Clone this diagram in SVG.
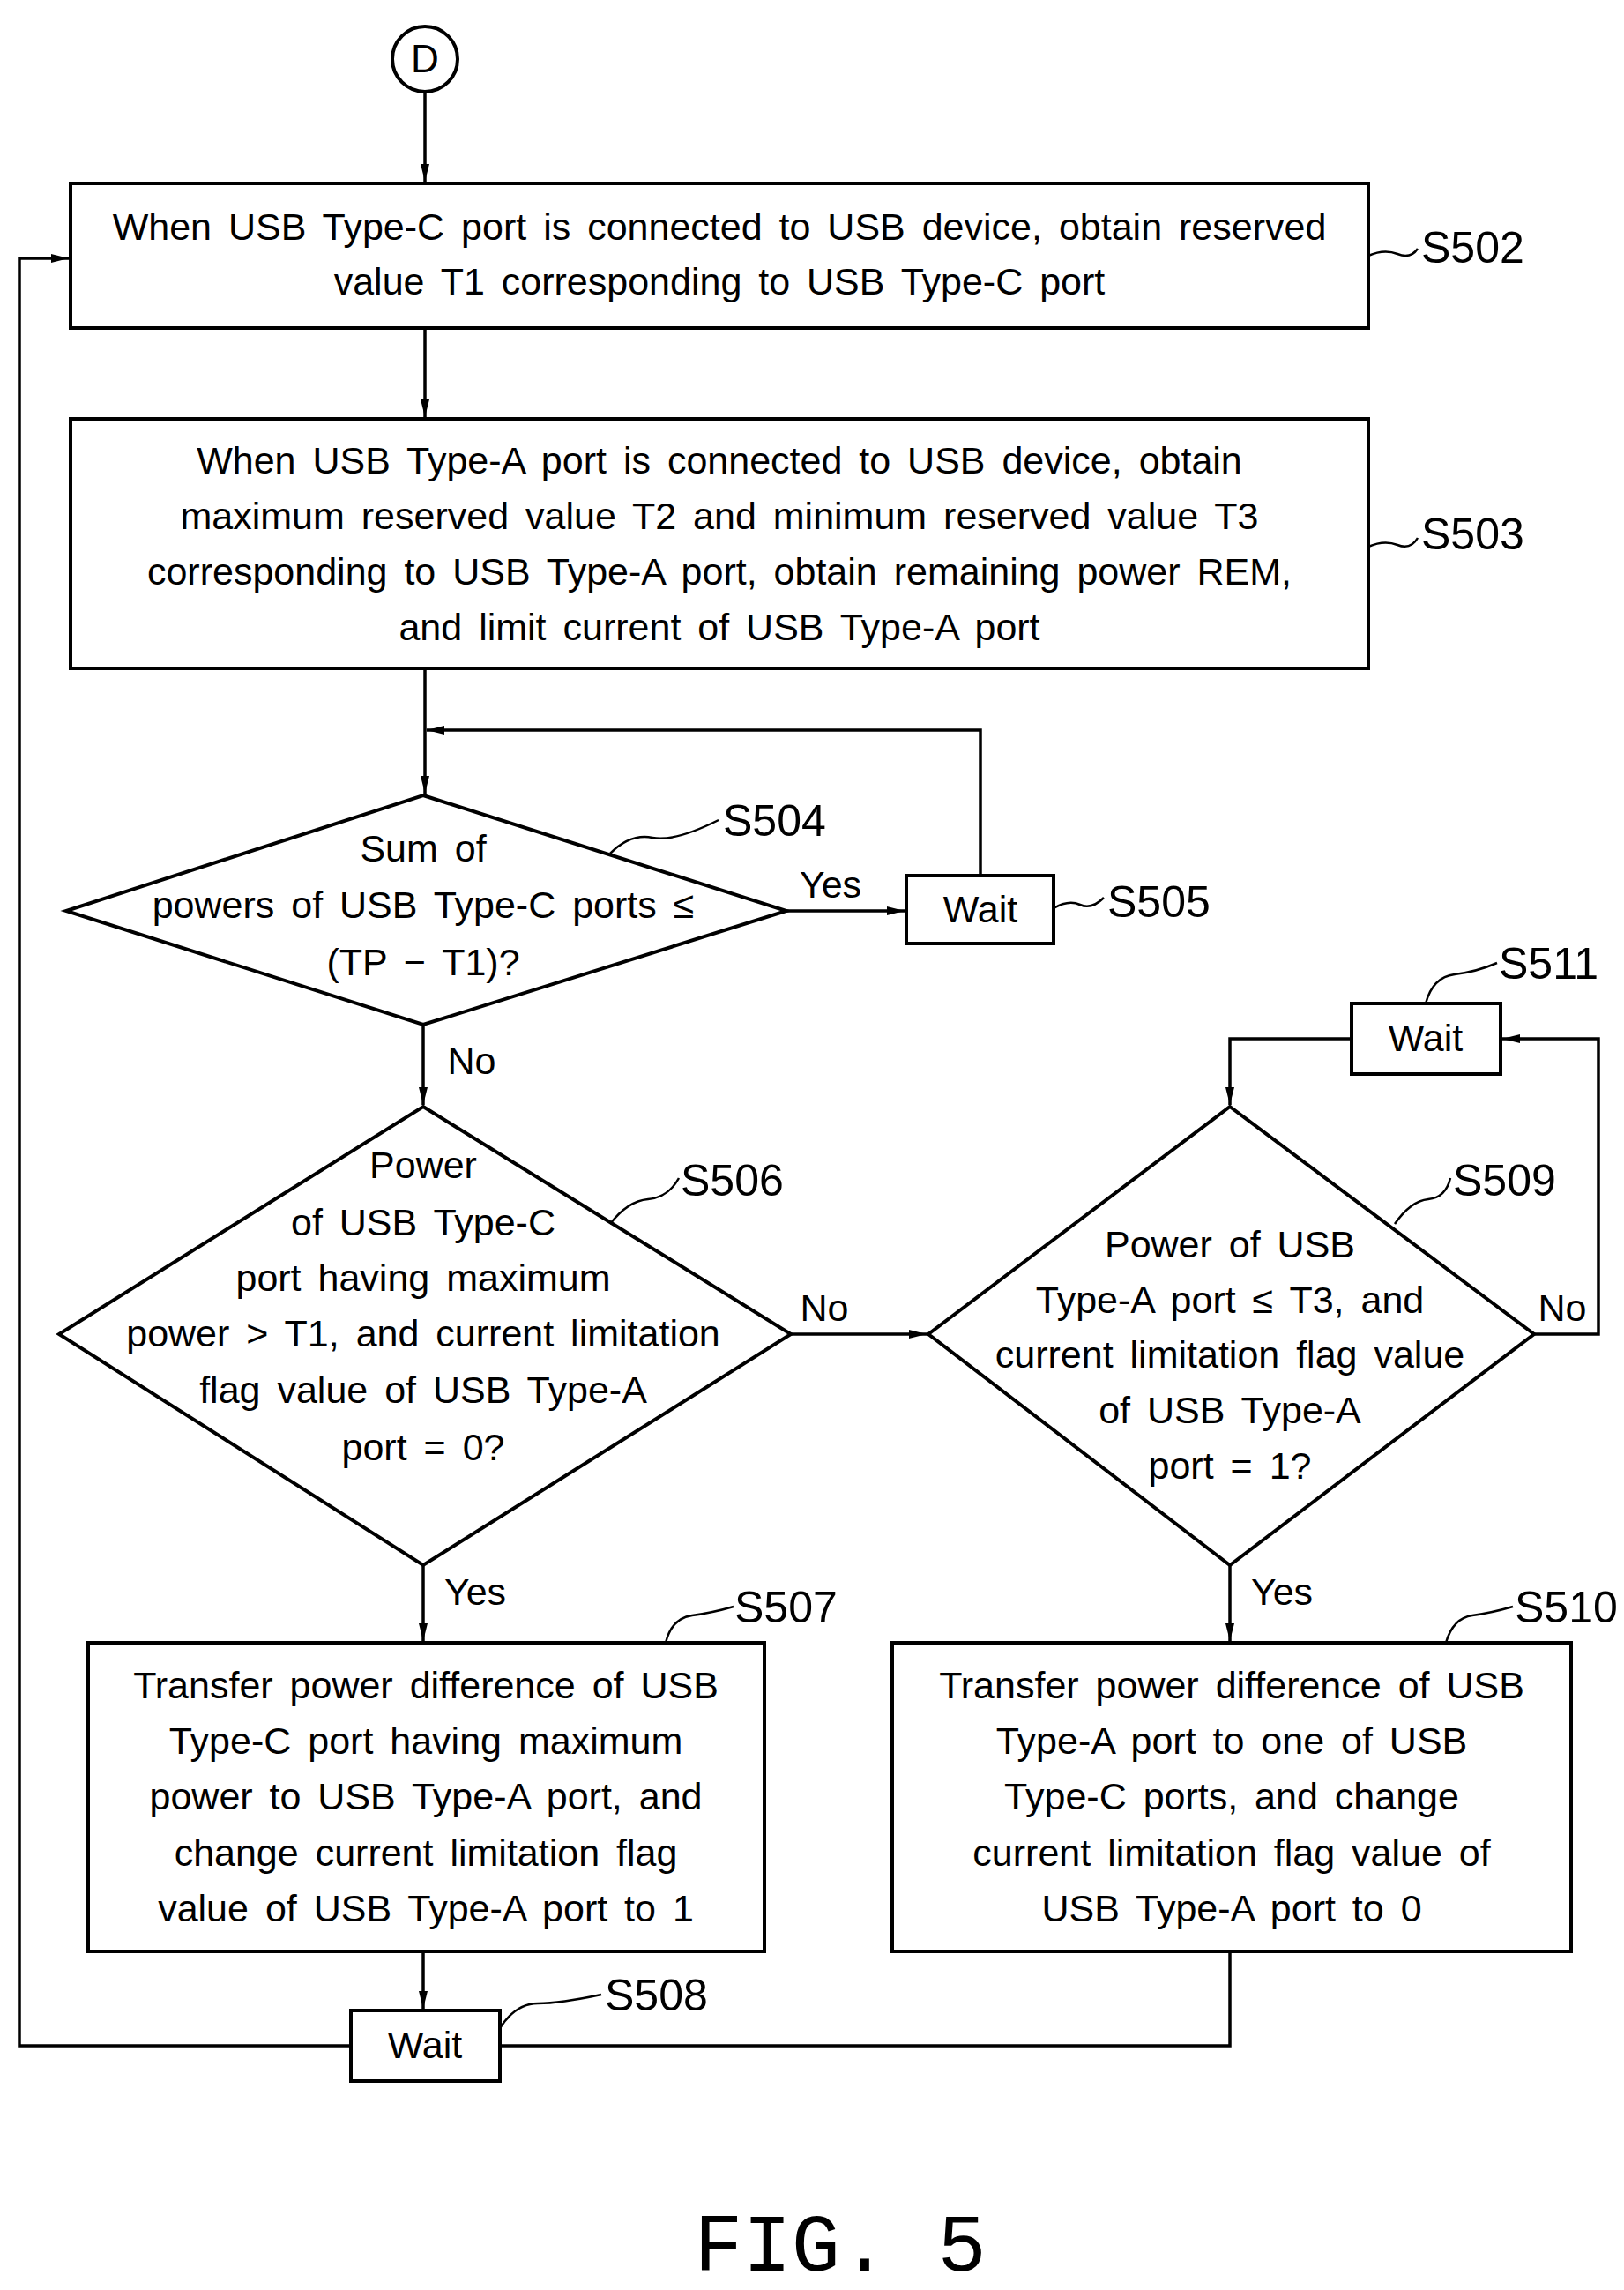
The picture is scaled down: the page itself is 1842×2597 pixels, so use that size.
<svg xmlns="http://www.w3.org/2000/svg" width="1842" height="2597" viewBox="0 0 1842 2597">
<style>
.b{fill:#fff;stroke:#000;stroke-width:4}
.t{font-family:"Liberation Sans",Arial,sans-serif;font-size:43px;word-spacing:7px;text-anchor:middle;fill:#000}
.l{font-family:"Liberation Sans",Arial,sans-serif;font-size:50px;fill:#000}
.c{fill:none;stroke:#000;stroke-width:3.5}
.q{fill:none;stroke:#000;stroke-width:2.5}
</style>
<defs><marker id="a" viewBox="0 0 20 10" refX="20" refY="5" markerWidth="20" markerHeight="10" markerUnits="userSpaceOnUse" orient="auto"><path d="M0,0 L20,5 L0,10 Z" fill="#000"/></marker></defs>
<rect width="1842" height="2597" fill="#fff"/>
<g id="connectors">
<path class="c" d="M482,104 V206" marker-end="url(#a)"/>
<path class="c" d="M482,372 V473" marker-end="url(#a)"/>
<path class="c" d="M482,758 V900" marker-end="url(#a)"/>
<path class="c" d="M1112,993 V828 H484" marker-end="url(#a)"/>
<path class="c" d="M892,1033 H1026" marker-end="url(#a)"/>
<path class="c" d="M480,1162 V1253" marker-end="url(#a)"/>
<path class="c" d="M897,1513 H1051" marker-end="url(#a)"/>
<path class="c" d="M1740,1513 H1813 V1178 H1704" marker-end="url(#a)"/>
<path class="c" d="M1533,1178 H1395 V1253" marker-end="url(#a)"/>
<path class="c" d="M480,1775 V1861" marker-end="url(#a)"/>
<path class="c" d="M1395,1775 V1861" marker-end="url(#a)"/>
<path class="c" d="M480,2213 V2278" marker-end="url(#a)"/>
<path class="c" d="M1395,2213 V2320 H567"/>
<path class="c" d="M398,2320 H22 V293 H78" marker-end="url(#a)"/>
<text class="t" x="942" y="1018">Yes</text>
<text class="t" x="535" y="1218">No</text>
<text class="t" x="935" y="1498">No</text>
<text class="t" x="1772" y="1498">No</text>
<text class="t" x="539" y="1820">Yes</text>
<text class="t" x="1454" y="1820">Yes</text>
</g>
<g id="D"><circle class="b" cx="482" cy="67" r="37"/><text class="t" x="482" y="82" style="font-size:44px">D</text></g>
<g id="S502"><rect class="b" x="80" y="208" width="1472" height="164"/>
<text class="t" x="816" y="272">When USB Type-C port is connected to USB device, obtain reserved</text>
<text class="t" x="816" y="334">value T1 corresponding to USB Type-C port</text>
<path class="q" d="M1552,290 Q1570,282 1585,288 T1608,282"/><text class="l" x="1612" y="298">S502</text></g>
<g id="S503"><rect class="b" x="80" y="475" width="1472" height="283"/>
<text class="t" x="816" y="537">When USB Type-A port is connected to USB device, obtain</text>
<text class="t" x="816" y="600">maximum reserved value T2 and minimum reserved value T3</text>
<text class="t" x="816" y="663">corresponding to USB Type-A port, obtain remaining power REM,</text>
<text class="t" x="816" y="726">and limit current of USB Type-A port</text>
<path class="q" d="M1552,620 Q1570,612 1585,618 T1608,610"/><text class="l" x="1612" y="623">S503</text></g>
<g id="S504"><polygon class="b" points="480,902 892,1033 480,1162 75,1033"/>
<text class="t" x="480" y="977">Sum of</text>
<text class="t" x="480" y="1041">powers of USB Type-C ports ≤</text>
<text class="t" x="480" y="1106">(TP − T1)?</text>
<path class="q" d="M692,968 Q715,945 740,950 T815,930"/><text class="l" x="820" y="948">S504</text></g>
<g id="S505"><rect class="b" x="1028" y="993" width="167" height="77"/><text class="t" x="1112" y="1046">Wait</text>
<path class="q" d="M1195,1030 Q1212,1020 1225,1026 T1252,1018"/><text class="l" x="1256" y="1040">S505</text></g>
<g id="S506"><polygon class="b" points="480,1255 897,1513 480,1775 67,1513"/>
<text class="t" x="480" y="1336">Power</text>
<text class="t" x="480" y="1401">of USB Type-C</text>
<text class="t" x="480" y="1464">port having maximum</text>
<text class="t" x="480" y="1527">power &gt; T1, and current limitation</text>
<text class="t" x="480" y="1591">flag value of USB Type-A</text>
<text class="t" x="480" y="1656">port = 0?</text>
<path class="q" d="M692,1388 Q712,1362 735,1360 T770,1336"/><text class="l" x="772" y="1356">S506</text></g>
<g id="S509"><polygon class="b" points="1395,1255 1740,1513 1395,1775 1053,1513"/>
<text class="t" x="1395" y="1426">Power of USB</text>
<text class="t" x="1395" y="1489">Type-A port ≤ T3, and</text>
<text class="t" x="1395" y="1551">current limitation flag value</text>
<text class="t" x="1395" y="1614">of USB Type-A</text>
<text class="t" x="1395" y="1677">port = 1?</text>
<path class="q" d="M1582,1388 Q1600,1362 1620,1360 T1645,1336"/><text class="l" x="1648" y="1356">S509</text></g>
<g id="S511"><rect class="b" x="1533" y="1138" width="169" height="80"/><text class="t" x="1617" y="1192">Wait</text>
<path class="q" d="M1617,1138 Q1625,1108 1650,1105 T1698,1092"/><text class="l" x="1700" y="1110">S511</text></g>
<g id="S507"><rect class="b" x="100" y="1863" width="767" height="350"/>
<text class="t" x="483" y="1926">Transfer power difference of USB</text>
<text class="t" x="483" y="1989">Type-C port having maximum</text>
<text class="t" x="483" y="2052">power to USB Type-A port, and</text>
<text class="t" x="483" y="2116">change current limitation flag</text>
<text class="t" x="483" y="2179">value of USB Type-A port to 1</text>
<path class="q" d="M755,1863 Q762,1835 785,1832 T832,1822"/><text class="l" x="833" y="1840">S507</text></g>
<g id="S510"><rect class="b" x="1012" y="1863" width="770" height="350"/>
<text class="t" x="1397" y="1926">Transfer power difference of USB</text>
<text class="t" x="1397" y="1989">Type-A port to one of USB</text>
<text class="t" x="1397" y="2052">Type-C ports, and change</text>
<text class="t" x="1397" y="2116">current limitation flag value of</text>
<text class="t" x="1397" y="2179">USB Type-A port to 0</text>
<path class="q" d="M1640,1863 Q1648,1835 1670,1832 T1716,1822"/><text class="l" x="1718" y="1840">S510</text></g>
<g id="S508"><rect class="b" x="398" y="2280" width="169" height="80"/><text class="t" x="482" y="2334">Wait</text>
<path class="q" d="M567,2300 Q585,2272 610,2272 T682,2262"/><text class="l" x="686" y="2280">S508</text></g>
<text x="953" y="2575" style="font-family:'Liberation Mono',monospace;font-size:92px;text-anchor:middle">FIG. 5</text>
</svg>
